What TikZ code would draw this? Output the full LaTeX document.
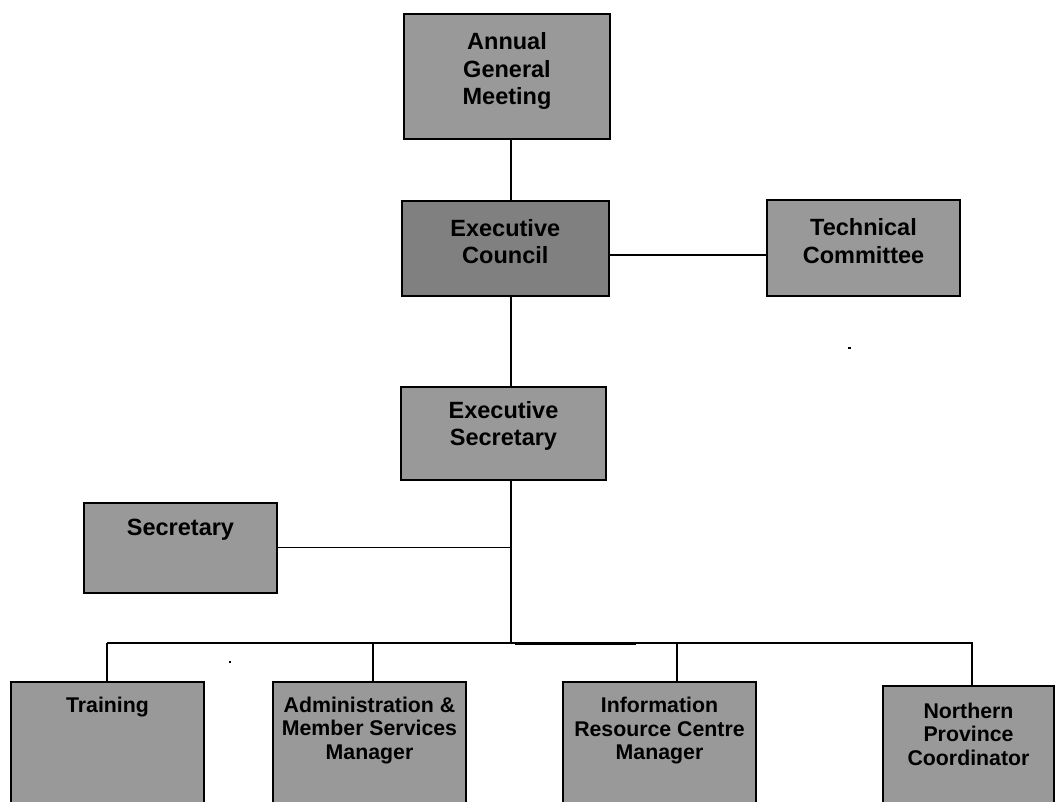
\documentclass[tikz,border=0pt]{standalone}
\usepackage{fontspec}
\setmainfont{Liberation Sans}
\definecolor{boxgray}{HTML}{999999}
\definecolor{darkbox}{HTML}{808080}
\tikzset{
  orgbox/.style={draw=black, line width=2pt, fill=boxgray, inner sep=0pt, rectangle},
  toptxt/.style={anchor=north, inner sep=0pt, align=center, font=\bfseries\fontsize{23.5}{27.5}\selectfont},
  bottxt/.style={anchor=north, inner sep=0pt, align=center, font=\bfseries\fontsize{21.3}{23.5}\selectfont},
  link/.style={draw=black, line width=1.6pt},
}
\begin{document}
\begin{tikzpicture}[x=1pt, y=-1pt]
\path[use as bounding box, clip] (0,0) rectangle (1061,802);
\fill[white] (0,0) rectangle (1061,802);

% boxes
\node[orgbox, minimum width=206pt, minimum height=125pt] (agm) at (507,76.5) {};
\node[orgbox, fill=darkbox, minimum width=206.5pt, minimum height=95.5pt] (ec) at (505.3,248.7) {};
\node[orgbox, minimum width=193pt, minimum height=96pt] (tc) at (863.5,248.5) {};
\node[orgbox, minimum width=205pt, minimum height=93pt] (es) at (503.5,433.5) {};
\node[orgbox, minimum width=193pt, minimum height=90pt] (sec) at (180.5,548) {};
\node[orgbox, minimum width=193pt, minimum height=160pt] (trn) at (107.5,762) {};
\node[orgbox, minimum width=193pt, minimum height=160pt] (adm) at (369.5,762) {};
\node[orgbox, minimum width=193pt, minimum height=160pt] (irc) at (659.5,762) {};
\node[orgbox, minimum width=171pt, minimum height=160pt] (npc) at (968.5,766) {};

% texts
\node[toptxt] (agmT) at ([yshift=-19.5pt]agm.north) {Annual\\General\\Meeting};
\node[toptxt] (ecT) at ([yshift=-19pt]ec.north) {Executive\\Council};
\node[toptxt] (tcT) at ([yshift=-19pt]tc.north) {Technical\\Committee};
\node[toptxt] (esT) at ([yshift=-15pt]es.north) {Executive\\Secretary};
\node[toptxt] (secT) at ([yshift=-17pt]sec.north) {Secretary};
\node[bottxt] (trnT) at ([yshift=-15.5pt]trn.north) {Training};
\node[bottxt] (admT) at ([yshift=-15.5pt]adm.north) {Administration \&\\Member Services\\Manager};
\node[bottxt] (ircT) at ([yshift=-16pt]irc.north) {Information\\Resource Centre\\Manager};
\node[bottxt] (npcT) at ([yshift=-17.5pt]npc.north) {Northern\\Province\\Coordinator};

% connector coordinates
\coordinate (spine) at (511,0);
\coordinate (busL) at (107,643);
\coordinate (busR) at (973,643);
\coordinate (busM) at (511,643);
\coordinate (thickA) at (515,644);
\coordinate (thickB) at (636,644);
\coordinate (secJ) at (511,547.5);
\coordinate (d1) at (107,643);
\coordinate (d2) at (373,643);
\coordinate (d3) at (677,643);
\coordinate (d4) at (972,643);

% connectors
\draw[link] (agm.south -| spine) -- (ec.north -| spine);
\draw[link] (ec.south -| spine) -- (es.north -| spine);
\draw[link] ([yshift=-6.5pt]ec.east) -- ([yshift=-6.5pt]ec.east -| tc.west);
\draw[link] (es.south -| spine) -- (busM);
\draw[link] (sec.east |- secJ) -- (secJ);
\draw[link] (busL) -- (busR);
\draw[draw=black, line width=2.6pt] (thickA) -- (thickB);
\draw[link] (d1) -- (trn.north -| d1);
\draw[link] (d2) -- (adm.north -| d2);
\draw[link] (d3) -- (irc.north -| d3);
\draw[link] (d4) -- (npc.north -| d4);

% stray dots
\fill[black] (848,347) rectangle (850.5,349.5);
\fill[black] (228.5,661) rectangle (230.5,663);
\end{tikzpicture}
\end{document}
